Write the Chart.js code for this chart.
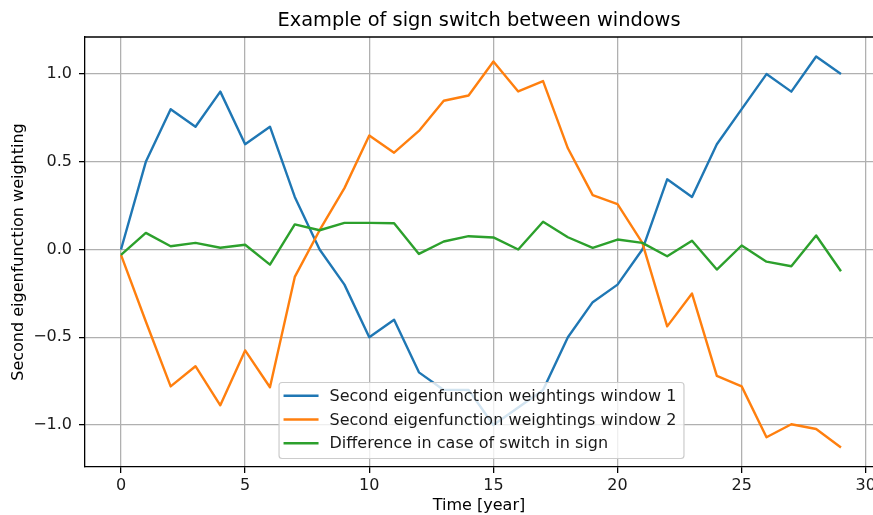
<!DOCTYPE html>
<html>
<head>
<meta charset="utf-8">
<title>Sign switch between windows</title>
<script src="https://cdn.jsdelivr.net/npm/chart.js@4/dist/chart.umd.min.js"></script>
<style>
  html, body { margin: 0; padding: 0; background: #fff; overflow: hidden; }
  canvas { display: block; }
</style>
</head>
<body>
<canvas id="chart" width="873" height="515"></canvas>
<script>
// ---- data ----
const years = [0, 1, 2, 3, 4, 5, 6, 7, 8, 9, 10, 11, 12, 13, 14, 15, 16, 17, 18, 19, 20, 21, 22, 23, 24, 25, 26, 27, 28, 29];

const window1 = [0.0, 0.5, 0.8, 0.7, 0.9, 0.6, 0.7, 0.3, 0.0, -0.2, -0.5, -0.4, -0.7, -0.8, -0.8,
  -1.0, -0.9, -0.8, -0.5, -0.3, -0.2, 0.0, 0.4, 0.3, 0.6, 0.8, 1.0, 0.9, 1.1, 1.0];

const window2 = [-0.03, -0.41, -0.78, -0.665, -0.888, -0.575, -0.785, -0.156, 0.11, 0.35, 0.65, 0.552,
  0.676, 0.848, 0.878, 1.072, 0.901, 0.96, 0.577, 0.31, 0.259, 0.038, -0.438, -0.251, -0.72, -0.78,
  -1.07, -0.996, -1.023, -1.128];

const difference = [-0.03, 0.095, 0.019, 0.038, 0.01, 0.027, -0.086, 0.143, 0.11, 0.152, 0.152, 0.15,
  -0.025, 0.046, 0.076, 0.069, 0.0, 0.158, 0.07, 0.01, 0.057, 0.038, -0.038, 0.05, -0.114, 0.023,
  -0.069, -0.095, 0.08, -0.124];

const seriesLabels = [
  "Second eigenfunction weightings window 1",
  "Second eigenfunction weightings window 2",
  "Difference in case of switch in sign"
];
const seriesColors = ["#1f77b4", "#ff7f0e", "#2ca02c"];

const xTicks = [0, 5, 10, 15, 20, 25, 30];
const yTicks = [-1.0, -0.5, 0.0, 0.5, 1.0];

// ---- helpers ----
const FONT = "'DejaVu Sans', 'Liberation Sans', sans-serif";

function toPoints(values) {
  return values.map((v, i) => ({ x: years[i], y: v }));
}

function fmtTick(v) {
  return (v < 0 ? "\u2212" : "") + Math.abs(v).toFixed(1);
}

// axis limits with a 5% margin around the data
const allY = window1.concat(window2, difference);
const yLo = Math.min(...allY), yHi = Math.max(...allY);
const yPad = (yHi - yLo) * 0.05;
const xPad = (years[years.length - 1] - years[0]) * 0.05;
// the plot is cut a little short on the right, so the x range ends early
const xMin = years[0] - xPad;
const xMax = 30.29;

// top frame line
const frame = {
  id: "frame",
  afterDraw(chart) {
    const { ctx, chartArea: a } = chart;
    ctx.save();
    ctx.strokeStyle = "#000";
    ctx.lineWidth = 1.3;
    ctx.beginPath();
    ctx.moveTo(a.left, a.top);
    ctx.lineTo(a.right + 2, a.top);
    ctx.stroke();
    ctx.restore();
  }
};

// legend box inside the plot, lower center (centred on the full frame)
const boxLegend = {
  id: "boxLegend",
  afterDraw(chart) {
    const { ctx, chartArea: a } = chart;
    ctx.save();
    ctx.font = "16px " + FONT;
    const textW = Math.max(...seriesLabels.map(s => ctx.measureText(s).width));
    const w = 51 + textW + 7;
    const h = 76;
    const x = (a.left + a.right + 4) / 2 - w / 2;
    const y = a.bottom - 9 - h;

    ctx.beginPath();
    ctx.roundRect(x + 0.5, y + 0.5, w, h, 3);
    ctx.fillStyle = "rgba(255,255,255,0.8)";
    ctx.fill();
    ctx.strokeStyle = "#cccccc";
    ctx.lineWidth = 1.2;
    ctx.stroke();

    ctx.textBaseline = "middle";
    ctx.textAlign = "left";
    seriesLabels.forEach((label, i) => {
      const cy = y + 13.7 + i * 23.8;
      ctx.strokeStyle = seriesColors[i];
      ctx.lineWidth = 2.4;
      ctx.beginPath();
      ctx.moveTo(x + 5, cy);
      ctx.lineTo(x + 40, cy);
      ctx.stroke();
      ctx.fillStyle = "#1a1a1a";
      ctx.fillText(label, x + 51, cy + 1);
    });
    ctx.restore();
  }
};

const lineData = [window1, window2, difference];

new Chart(document.getElementById("chart"), {
  type: "line",
  data: {
    datasets: lineData.map((vals, i) => ({
      label: seriesLabels[i],
      data: toPoints(vals),
      borderColor: seriesColors[i],
      backgroundColor: seriesColors[i],
      borderWidth: 2.4,
      borderJoinStyle: "round",
      pointRadius: 0,
      tension: 0,
      fill: false,
      order: 3 - i
    }))
  },
  options: {
    responsive: false,
    animation: false,
    layout: { padding: { left: 0, right: 0, top: 0, bottom: 0 } },
    plugins: {
      legend: { display: false },
      tooltip: { enabled: false },
      title: {
        display: true,
        text: "Example of sign switch between windows",
        fullSize: false,
        color: "#000",
        font: { family: FONT, size: 19.4, weight: "normal", lineHeight: 1.2 },
        padding: { top: 9, bottom: 4.7 }
      }
    },
    scales: {
      x: {
        type: "linear",
        min: xMin,
        max: xMax,
        afterBuildTicks: s => { s.ticks = xTicks.map(v => ({ value: v })); },
        afterFit: s => { s.height = 48; s.paddingLeft = 0; s.paddingRight = 0; },
        grid: { color: "#b0b0b0", lineWidth: 1.28, tickLength: 6, tickColor: "#000", tickWidth: 1.28 },
        border: { color: "#000", width: 1.3 },
        ticks: {
          autoSkip: false, maxRotation: 0, padding: 3, color: "#1a1a1a",
          font: { family: FONT, size: 16 },
          callback: v => String(v)
        },
        title: {
          display: true, text: "Time [year]", color: "#000",
          font: { family: FONT, size: 16 }, padding: { top: 0, bottom: 0 }
        }
      },
      y: {
        type: "linear",
        min: yLo - yPad,
        max: yHi + yPad,
        afterBuildTicks: s => { s.ticks = yTicks.map(v => ({ value: v })); },
        afterFit: s => { s.width = 85; s.paddingTop = 0; s.paddingBottom = 0; },
        grid: { color: "#b0b0b0", lineWidth: 1.28, tickLength: 6, tickColor: "#000", tickWidth: 1.28 },
        border: { color: "#000", width: 1.3 },
        ticks: {
          autoSkip: false, padding: 7, color: "#1a1a1a",
          font: { family: FONT, size: 16 },
          callback: v => fmtTick(v)
        },
        title: {
          display: true, text: "Second eigenfunction weighting", color: "#000",
          font: { family: FONT, size: 16 }, padding: { top: 9.4, bottom: 0 }
        }
      }
    }
  },
  plugins: [frame, boxLegend]
});
</script>
</body>
</html>
